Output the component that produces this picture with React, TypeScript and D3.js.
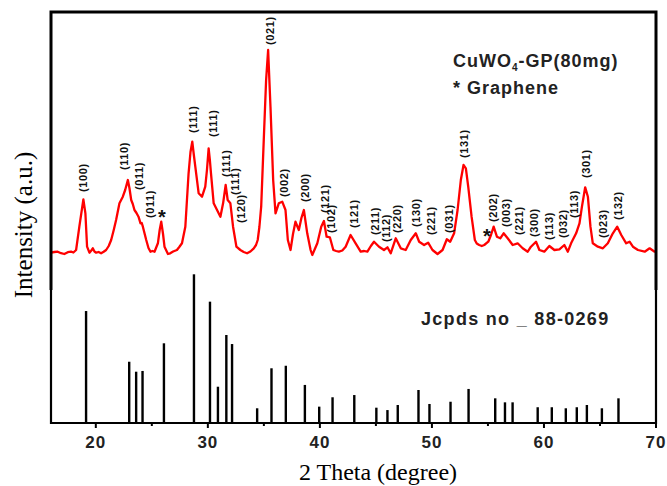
import React from "react";
import * as d3 from "d3";

// Measured XRD pattern: [2θ (deg), intensity (a.u.)]
const xrdCurve: [number, number][] = [
  [16.0, 73], [16.3, 80], [16.6, 83], [16.9, 68], [17.19, 60], [17.5, 78], [17.79, 83], [18.0, 75], [18.24, 100],
  [18.53, 333], [18.89, 607], [19.07, 467], [19.22, 133], [19.43, 73], [19.6, 95], [19.73, 117], [19.88, 85],
  [20.03, 73], [20.25, 80], [20.47, 67], [20.7, 82], [20.92, 100], [21.15, 140], [21.37, 200], [21.6, 300],
  [21.81, 400], [22.11, 567], [22.41, 633], [22.62, 700], [22.86, 800], [23.0, 720], [23.16, 600], [23.3, 560],
  [23.45, 500], [23.63, 470], [23.81, 433], [23.99, 367], [24.1, 370], [24.2, 333], [24.5, 200], [24.7, 120],
  [24.88, 83], [25.05, 90], [25.24, 83], [25.54, 167], [25.7, 300], [25.84, 383], [26.0, 260], [26.13, 133],
  [26.44, 60], [26.64, 67], [26.9, 85], [27.24, 100], [27.45, 130], [27.69, 167], [27.99, 333], [28.28, 867],
  [28.45, 1080], [28.61, 1183], [28.75, 1050], [28.88, 933], [29.18, 667], [29.48, 633], [29.77, 733],
  [29.92, 900], [30.07, 1117], [30.18, 1000], [30.28, 867], [30.52, 567], [30.82, 500], [31.12, 433],
  [31.36, 567], [31.59, 750], [31.77, 600], [32.01, 567], [32.25, 333], [32.55, 133], [32.9, 100], [33.2, 80],
  [33.5, 67], [33.8, 85], [34.1, 117], [34.3, 150], [34.45, 200], [34.6, 330], [34.76, 533], [34.99, 1200],
  [35.2, 1800], [35.38, 2100], [35.59, 1533], [35.83, 800], [36.04, 467], [36.33, 567], [36.64, 583],
  [36.93, 500], [37.14, 200], [37.38, 100], [37.6, 260], [37.82, 383], [38.12, 300], [38.35, 420],
  [38.57, 500], [38.87, 267], [39.17, 100], [39.32, 50], [39.55, 110], [39.77, 167], [40.12, 333],
  [40.36, 390], [40.6, 233], [40.89, 227], [41.2, 100], [41.45, 90], [41.7, 83], [42.0, 95], [42.3, 133],
  [42.74, 250], [43.19, 167], [43.64, 83], [43.95, 90], [44.24, 83], [44.55, 140], [44.83, 183], [45.28, 133],
  [45.72, 100], [46.03, 127], [46.32, 67], [46.77, 217], [47.22, 117], [47.66, 100], [48.11, 200],
  [48.56, 267], [48.86, 183], [49.3, 150], [49.66, 173], [50.05, 100], [50.5, 60], [50.95, 100],
  [51.33, 207], [51.63, 183], [51.98, 267], [52.29, 500], [52.58, 800], [52.82, 950], [53.03, 917],
  [53.24, 733], [53.54, 433], [53.83, 200], [54.0, 165], [54.22, 150], [54.45, 140], [54.67, 150],
  [55.03, 183], [55.27, 250], [55.51, 333], [55.8, 233], [56.1, 217], [56.4, 267], [56.76, 217],
  [57.21, 150], [57.65, 167], [58.1, 117], [58.55, 83], [58.84, 133], [59.29, 183], [59.59, 100],
  [60.03, 83], [60.48, 140], [60.93, 100], [61.38, 107], [61.82, 150], [62.13, 83], [62.42, 167],
  [62.87, 267], [63.17, 367], [63.39, 533], [63.68, 727], [63.92, 633], [64.15, 333], [64.36, 167],
  [64.81, 133], [65.26, 117], [65.7, 167], [66.15, 267], [66.54, 333], [66.9, 250], [67.34, 167],
  [67.64, 183], [67.94, 133], [68.39, 100], [68.99, 83], [69.43, 117], [69.88, 83], [70.0, 85],
];

// Peak index labels: [text, 2θ position, intensity where label starts]
const peakLabelText = [
  "(100)", "(110)", "(011)", "(011)", "(111)", "(111)", "(111)", "(111)", "(120)", "(021)",
  "(002)", "(200)", "(121)", "(102)", "(121)", "(211)", "(112)", "(220)", "(130)", "(221)",
  "(031)", "(131)", "(202)", "(003)", "(221)", "(300)", "(113)", "(032)", "(113)", "(301)",
  "(023)", "(132)",
];
const peakLabelTheta = [
  18.89, 22.53, 23.87, 24.85, 28.67, 30.46, 31.59, 32.4, 33.0, 35.53,
  36.78, 38.63, 40.42, 41.02, 43.04, 44.89, 45.87, 46.92, 48.56, 49.9,
  51.54, 52.88, 55.42, 56.61, 57.8, 59.14, 60.43, 61.68, 62.72, 63.77,
  65.26, 66.65,
];
const peakLabelLevel = [
  680, 900, 700, 420, 1270, 1230, 830, 650, 370, 2150,
  630, 580, 470, 270, 320, 250, 180, 270, 330, 250,
  270, 1020, 380, 330, 250, 230, 200, 220, 420, 820,
  220, 400,
];

// Graphene markers
const starTheta = [25.9, 54.91];
const starLevel = [470, 280];

// JCPDS 88-0269 reference lines: 2θ and relative intensity
const refTheta = [
  19.13, 22.98, 23.6, 24.17, 26.08, 28.76, 30.19, 30.9, 31.65, 32.16, 34.4, 35.68, 36.96,
  38.66, 39.94, 41.13, 43.07, 45.04, 46.03, 46.95, 48.8, 49.78, 51.66, 53.27, 55.65, 56.52,
  57.2, 59.44, 60.7, 61.95, 62.93, 63.83, 65.17, 66.65,
];
const refIntensity = [
  75.3, 41.2, 34.5, 35.0, 53.6, 100, 81.6, 24.4, 59.2, 53.1, 9.9, 36.8, 38.5,
  25.6, 11.0, 17.3, 18.8, 10.3, 8.7, 12.1, 22.2, 12.8, 14.3, 22.9, 16.6, 13.9,
  13.9, 10.6, 10.6, 9.9, 10.6, 12.1, 9.9, 16.6,
];

const xMajorTicks = [20, 30, 40, 50, 60, 70];
const xMinorTicks = [25, 35, 45, 55, 65];

const W = 667;
const H = 486;
const left = 51;
const right = 656;
const top = 12;
const split = 290;
const bottom = 423;

const sans = "'Liberation Sans', Arial, Helvetica, sans-serif";
const serif = "'Liberation Serif', 'Times New Roman', serif";

export default function App() {
  const x = d3.scaleLinear().domain([16, 70]).range([left, right]);
  const yTop = d3.scaleLinear().domain([0, 2100]).range([260, 50]);
  const yRef = d3.scaleLinear().domain([0, 100]).range([bottom, 274.3]);

  const line = d3
    .line<[number, number]>()
    .x((d) => x(d[0]))
    .y((d) => yTop(d[1]));

  return (
    <svg
      width={W}
      height={H}
      style={{ position: "absolute", left: 0, top: 0, background: "#fff" }}
    >
      <rect x={0} y={0} width={W} height={H} fill="#fff" />

      {/* reference sticks */}
      {refTheta.map((t, i) => (
        <line
          key={"r" + i}
          x1={x(t)}
          x2={x(t)}
          y1={yRef(0)}
          y2={yRef(refIntensity[i])}
          stroke="#000"
          strokeWidth={2.4}
        />
      ))}

      {/* XRD curve */}
      <path
        d={line(xrdCurve) || ""}
        fill="none"
        stroke="#ff0000"
        strokeWidth={2.3}
        strokeLinejoin="round"
      />

      {/* peak labels */}
      {peakLabelText.map((s, i) => {
        const px = x(peakLabelTheta[i]) + 4;
        const py = yTop(peakLabelLevel[i]);
        return (
          <text
            key={"l" + i}
            transform={`translate(${px},${py}) rotate(-90)`}
            fontFamily={sans}
            fontWeight="bold"
            fontSize={11}
            letterSpacing={0.6}
            fill="#111"
          >
            {s}
          </text>
        );
      })}

      {/* graphene stars */}
      {starTheta.map((t, i) => (
        <text
          key={"s" + i}
          x={x(t)}
          y={yTop(starLevel[i]) + 11}
          textAnchor="middle"
          fontFamily={sans}
          fontWeight="bold"
          fontSize={20}
          fill="#111"
        >
          *
        </text>
      ))}

      {/* frame: upper panel */}
      <path
        d={`M${left},${split} V${top} H${right} V${split}`}
        fill="none"
        stroke="#000"
        strokeWidth={3}
      />
      {/* frame: lower panel */}
      <path
        d={`M${left},${split} V${bottom} H${right} V${split}`}
        fill="none"
        stroke="#000"
        strokeWidth={2.2}
      />

      {/* ticks */}
      {xMajorTicks.map((t) => (
        <line key={"mt" + t} x1={x(t)} x2={x(t)} y1={bottom} y2={bottom + 5} stroke="#000" strokeWidth={2} />
      ))}
      {xMinorTicks.map((t) => (
        <line key={"nt" + t} x1={x(t)} x2={x(t)} y1={bottom} y2={bottom + 3} stroke="#000" strokeWidth={2} />
      ))}
      {xMajorTicks.map((t) => (
        <text
          key={"tl" + t}
          x={x(t)}
          y={448}
          textAnchor="middle"
          fontFamily={sans}
          fontWeight="bold"
          fontSize={17}
          letterSpacing={1}
          fill="#222"
        >
          {t}
        </text>
      ))}

      {/* axis titles */}
      <text x={378} y={480} textAnchor="middle" fontFamily={serif} fontSize={24} fill="#000">
        2 Theta (degree)
      </text>
      <text
        transform={`translate(32,225) rotate(-90)`}
        textAnchor="middle"
        fontFamily={serif}
        fontSize={25}
        fill="#000"
      >
        Intensity (a.u.)
      </text>

      {/* legend texts */}
      <text x={453} y={67} fontFamily={sans} fontWeight="bold" fontSize={18} letterSpacing={1} fill="#222">
        CuWO<tspan fontSize={10} dy={4}>4</tspan>
        <tspan dy={-4}>-GP(80mg)</tspan>
      </text>
      <text x={453} y={94} fontFamily={sans} fontWeight="bold" fontSize={18} letterSpacing={1} fill="#222">
        * Graphene
      </text>
      <text x={421} y={325} fontFamily={sans} fontWeight="bold" fontSize={18} letterSpacing={1.3} fill="#222">
        Jcpds no _ 88-0269
      </text>
    </svg>
  );
}
